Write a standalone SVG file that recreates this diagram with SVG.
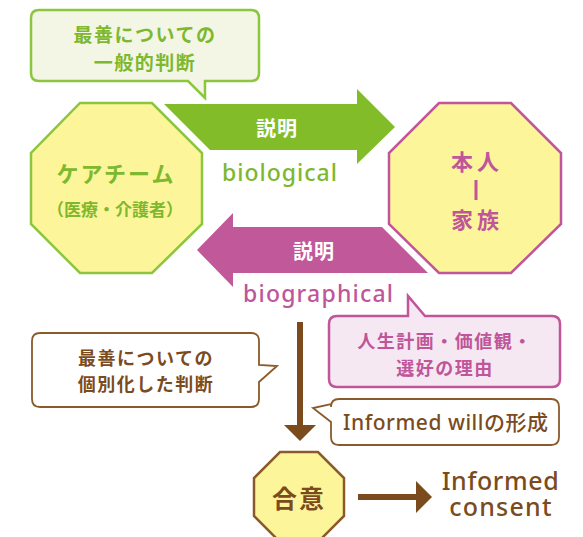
<svg xmlns="http://www.w3.org/2000/svg" width="583" height="537" viewBox="0 0 583 537">
<style>
.jp{font-family:"Noto Sans CJK JP","Noto Sans",sans-serif;font-weight:700;text-anchor:middle;dominant-baseline:central}
.lat{font-family:"Noto Sans","Noto Sans CJK JP",sans-serif;font-weight:500;text-anchor:middle}
.g{fill:#7db82e}
.m{fill:#c0559a}
.b{fill:#7b4b1e}
.w{fill:#ffffff}
.oct{fill:#fdf59a;stroke-width:2.5}
</style>
<rect width="583" height="537" fill="#ffffff"/>
<g id="callout-general">
<path d="M39,10 H251 Q259,10 259,18 V73 Q259,81 251,81 H205 V98 L188,81 H39 Q31,81 31,73 V18 Q31,10 39,10 Z" fill="#f3f6e4" stroke="#8cc63f" stroke-width="2.5"/>
<text class="jp g" x="145" y="33" font-size="19" letter-spacing="1.5">最善についての</text>
<text class="jp g" x="145" y="61" font-size="19" letter-spacing="1.5">一般的判断</text>
</g>
<g id="connectors">
<polygon id="arrow-biological" points="164,104 357,104 357,89 395,127 357,164 357,150 210,150" fill="#82bd29"/>
<polygon id="arrow-biographical" points="197,250 233,213 233,227 382,227 428,273 233,273 233,287" fill="#c1589a"/>
<line x1="300" y1="322" x2="300" y2="426" stroke="#7b4b1e" stroke-width="6"/>
<polygon points="284,425 316,425 300,441" fill="#7b4b1e"/>
<line x1="358" y1="497" x2="418" y2="497" stroke="#7b4b1e" stroke-width="6"/>
<polygon points="416,481 432,497 416,513" fill="#7b4b1e"/>
</g>
<g id="label-biological">
<text class="jp w" x="277" y="127" font-size="20" letter-spacing="1">説明</text>
<text class="lat g" x="279.5" y="181" font-size="23" textLength="115" lengthAdjust="spacing">biological</text>
</g>
<g id="label-biographical">
<text class="jp w" x="314" y="250" font-size="20" letter-spacing="1">説明</text>
<text class="lat m" x="318" y="302" font-size="23" textLength="150" lengthAdjust="spacing">biographical</text>
</g>
<g id="node-careteam">
<polygon class="oct" points="80,103 152,103 202,153 202,224 152,273 80,273 31,224 31,153" stroke="#8cc63f"/>
<text class="jp g" x="116" y="172" font-size="22" letter-spacing="2">ケアチーム</text>
<text class="jp g" x="115" y="208" font-size="17">（医療・介護者）</text>
</g>
<g id="node-person">
<polygon class="oct" points="439,103 511,103 561,153 561,224 511,273 439,273 389,224 389,153" stroke="#c0559a"/>
<text class="jp m" x="477" y="160" font-size="22" letter-spacing="4">本人</text>
<rect x="474.5" y="180" width="3" height="20" fill="#c0559a"/>
<text class="jp m" x="477" y="218" font-size="22" letter-spacing="4">家族</text>
</g>
<g id="callout-life">
<path d="M337,316 H408 V296 L425,316 H552 Q560,316 560,324 V379 Q560,387 552,387 H337 Q329,387 329,379 V324 Q329,316 337,316 Z" fill="#f6e8f2" stroke="#c0559a" stroke-width="2.5"/>
<text class="jp m" x="445" y="340" font-size="18" letter-spacing="1.5">人生計画・価値観・</text>
<text class="jp m" x="445" y="367" font-size="18" letter-spacing="1.5">選好の理由</text>
</g>
<g id="callout-individual">
<path d="M40,333 H251 Q259,333 259,341 V365 L277,366 L259,382 V399 Q259,407 251,407 H40 Q32,407 32,399 V341 Q32,333 40,333 Z" fill="#ffffff" stroke="#8b5a2b" stroke-width="1.8"/>
<text class="jp b" x="146" y="357" font-size="18" letter-spacing="1.5">最善についての</text>
<text class="jp b" x="146" y="383" font-size="18" letter-spacing="1.5">個別化した判断</text>
</g>
<g id="callout-will">
<path d="M339,399 H551 Q559,399 559,407 V437 Q559,445 551,445 H339 Q331,445 331,437 V422 L313,408 L331,404 V407 Q331,399 339,399 Z" fill="#ffffff" stroke="#8b5a2b" stroke-width="1.8"/>
<text class="lat b" x="445.5" y="430" font-size="21" textLength="205" lengthAdjust="spacing">Informed willの形成</text>
</g>
<g id="node-agreement">
<polygon class="oct" points="280,452 318,452 344,478 344,516 318,542 280,542 254,516 254,478" stroke="#8b5a2b" stroke-width="1.5"/>
<text class="jp b" x="299" y="497" font-size="25" letter-spacing="2">合意</text>
</g>
<g id="label-consent">
<text class="lat b" font-size="25"><tspan x="500.5" y="490" letter-spacing="0.6">Informed</tspan><tspan x="501" y="516" letter-spacing="1.2">consent</tspan></text>
</g>
</svg>
